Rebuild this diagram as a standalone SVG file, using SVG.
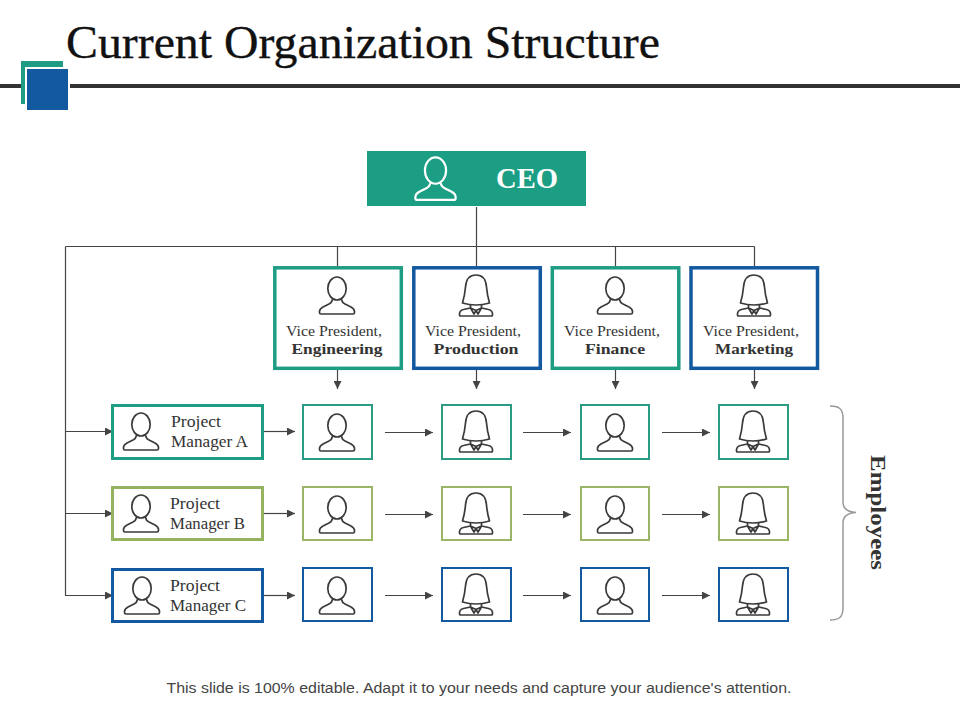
<svg xmlns="http://www.w3.org/2000/svg" width="960" height="720" viewBox="0 0 960 720">
<style>
text{font-family:"Liberation Serif","DejaVu Serif",serif;fill:#333}
.t{font-size:14.5px;text-anchor:middle}
.b{font-size:15px;font-weight:bold;text-anchor:middle}
.pm{font-size:16px}
.c{fill:none;stroke:#444;stroke-width:1.2}
.ic{fill:none;stroke:#3a3a3a;stroke-width:1.7;stroke-linejoin:round;stroke-linecap:round}
.vg{stroke:#1f9d84;fill:#fff;stroke-width:3.5}
.vb{stroke:#12599f;fill:#fff;stroke-width:3.5}
.pg{stroke:#1f9d84;fill:#fff;stroke-width:3}
.pl{stroke:#95b35f;fill:#fff;stroke-width:3}
.pb{stroke:#12599f;fill:#fff;stroke-width:3}
.sg{stroke:#2b9b84;fill:#fff;stroke-width:2}
.sl{stroke:#9ab566;fill:#fff;stroke-width:2}
.sb{stroke:#12599f;fill:#fff;stroke-width:2}
</style>
<defs>
<marker id="ah" viewBox="0 0 8 8" refX="8" refY="4" markerWidth="8" markerHeight="8" markerUnits="userSpaceOnUse" orient="auto"><path d="M0 0L8 4L0 8Z" fill="#444"/></marker>
<g id="man"><ellipse cx="0" cy="-6.500" rx="9.200" ry="11.500"/><path d="M-4.500 4.500Q-5 7.500-8 9L-14 12Q-17.500 14-17.500 16.500V17.500Q-17.500 19-16 19H16Q17.500 19 17.500 17.500V16.500Q17.500 14 14 12L8 9Q5 7.500 4.500 4.500"/></g>
<g id="woman"><path d="M0 -20C-7 -20-10 -15-10.500 -8C-11 -2-12 3-13.500 8Q-7 10 0 10Q7 10 13.500 8C12 3 11 -2 10.500 -8C10 -15 7 -20 0 -20Z"/><path d="M-5.500 10V13L-2 19L0 15.500L2 19L5.500 13V10M-5.500 13L-12.500 14.500Q-16.500 15.500-16.500 19V20Q-16.500 21-15.500 21H15.500Q16.500 21 16.500 20V19Q16.500 15.500 12.500 14.500L5.500 13M-5.500 13L0 15.500L5.500 13"/></g>
</defs>

<g id="header">
<rect x="0" y="84" width="960" height="4" fill="#333"/>
<rect x="21" y="61" width="42" height="43" fill="#1f9d84"/>
<rect x="25" y="67" width="45" height="45" fill="#fff"/>
<rect x="27" y="69" width="41" height="41" fill="#12599f"/>
<text x="66" y="58" font-size="46" textLength="594" lengthAdjust="spacingAndGlyphs" style="fill:#111;stroke:#111;stroke-width:.35">Current Organization Structure</text>
</g>

<g id="connectors" class="c">
<path d="M476.500 207V267M65.500 246.500H754.500M337.500 246.500V267M615.500 246.500V267M754.500 246.500V267M65.500 246.500V595.500"/>
<path d="M337.500 369V389" marker-end="url(#ah)"/>
<path d="M476.500 369V389" marker-end="url(#ah)"/>
<path d="M615.500 369V389" marker-end="url(#ah)"/>
<path d="M754.500 369V389" marker-end="url(#ah)"/>
<path d="M65 431.500H113" marker-end="url(#ah)"/>
<path d="M65 513.500H113" marker-end="url(#ah)"/>
<path d="M65 595.500H113" marker-end="url(#ah)"/>
<path d="M264 431.500H295" marker-end="url(#ah)"/>
<path d="M264 513.500H295" marker-end="url(#ah)"/>
<path d="M264 595.500H295" marker-end="url(#ah)"/>
<path d="M385 432.500H433" marker-end="url(#ah)"/>
<path d="M385 514.500H433" marker-end="url(#ah)"/>
<path d="M385 595.500H433" marker-end="url(#ah)"/>
<path d="M523 432.500H571" marker-end="url(#ah)"/>
<path d="M523 514.500H571" marker-end="url(#ah)"/>
<path d="M523 595.500H571" marker-end="url(#ah)"/>
<path d="M662 432.500H710" marker-end="url(#ah)"/>
<path d="M662 514.500H710" marker-end="url(#ah)"/>
<path d="M662 595.500H710" marker-end="url(#ah)"/>
</g>

<g id="ceo">
<rect x="367" y="151" width="219" height="55" fill="#1b9e83"/>
<g transform="translate(435.500 178) scale(1.150)" fill="none" stroke="#fff" stroke-width="1.900" stroke-linejoin="round"><use href="#man"/></g>
<text x="527" y="188" font-size="30" font-weight="bold" text-anchor="middle" textLength="62" lengthAdjust="spacingAndGlyphs" style="fill:#fff">CEO</text>
</g>

<g id="vp-engineering"><rect class="vg" x="274.800" y="267.800" width="126.500" height="100.500"/><use href="#man" x="337" y="295" class="ic"/><text class="t" x="334" y="336" textLength="96" lengthAdjust="spacingAndGlyphs">Vice President,</text><text class="b" x="337" y="354" textLength="91" lengthAdjust="spacingAndGlyphs">Engineering</text></g>
<g id="vp-production"><rect class="vb" x="413.800" y="267.800" width="126.500" height="100.500"/><use href="#woman" x="476" y="295" class="ic"/><text class="t" x="473" y="336" textLength="96" lengthAdjust="spacingAndGlyphs">Vice President,</text><text class="b" x="476" y="354" textLength="85" lengthAdjust="spacingAndGlyphs">Production</text></g>
<g id="vp-finance"><rect class="vg" x="552.300" y="267.800" width="126.500" height="100.500"/><use href="#man" x="615" y="295" class="ic"/><text class="t" x="612" y="336" textLength="96" lengthAdjust="spacingAndGlyphs">Vice President,</text><text class="b" x="615" y="354" textLength="60" lengthAdjust="spacingAndGlyphs">Finance</text></g>
<g id="vp-marketing"><rect class="vb" x="691" y="267.800" width="126.500" height="100.500"/><use href="#woman" x="754" y="295" class="ic"/><text class="t" x="751" y="336" textLength="96" lengthAdjust="spacingAndGlyphs">Vice President,</text><text class="b" x="754" y="354" textLength="78" lengthAdjust="spacingAndGlyphs">Marketing</text></g>

<g id="pm-a"><rect class="pg" x="112.500" y="405.500" width="150" height="53"/><use href="#man" x="141" y="431" class="ic"/><text class="pm" x="171" y="427" textLength="50" lengthAdjust="spacingAndGlyphs">Project</text><text class="pm" x="171" y="447" textLength="77" lengthAdjust="spacingAndGlyphs">Manager A</text></g>
<g id="pm-b"><rect class="pl" x="112.500" y="487.500" width="150" height="52"/><use href="#man" x="141" y="513" class="ic"/><text class="pm" x="170" y="509" textLength="50" lengthAdjust="spacingAndGlyphs">Project</text><text class="pm" x="170" y="529" textLength="75" lengthAdjust="spacingAndGlyphs">Manager B</text></g>
<g id="pm-c"><rect class="pb" x="112.500" y="569.500" width="150" height="52"/><use href="#man" x="142" y="595" class="ic"/><text class="pm" x="170" y="591" textLength="50" lengthAdjust="spacingAndGlyphs">Project</text><text class="pm" x="170" y="611" textLength="76" lengthAdjust="spacingAndGlyphs">Manager C</text></g>

<g id="e-a1"><rect class="sg" x="303" y="405" width="69" height="54"/><use href="#man" x="337" y="432" class="ic"/></g>
<g id="e-a2"><rect class="sg" x="442" y="405" width="69" height="54"/><use href="#woman" x="476" y="431" class="ic"/></g>
<g id="e-a3"><rect class="sg" x="581" y="405" width="68" height="54"/><use href="#man" x="615" y="432" class="ic"/></g>
<g id="e-a4"><rect class="sg" x="719" y="405" width="69" height="54"/><use href="#woman" x="753" y="431" class="ic"/></g>
<g id="e-b1"><rect class="sl" x="303" y="487" width="69" height="53"/><use href="#man" x="337" y="514" class="ic"/></g>
<g id="e-b2"><rect class="sl" x="442" y="487" width="69" height="53"/><use href="#woman" x="476" y="513" class="ic"/></g>
<g id="e-b3"><rect class="sl" x="581" y="487" width="68" height="53"/><use href="#man" x="615" y="514" class="ic"/></g>
<g id="e-b4"><rect class="sl" x="719" y="487" width="69" height="53"/><use href="#woman" x="753" y="513" class="ic"/></g>
<g id="e-c1"><rect class="sb" x="303" y="568" width="69" height="53"/><use href="#man" x="337" y="595" class="ic"/></g>
<g id="e-c2"><rect class="sb" x="442" y="568" width="69" height="53"/><use href="#woman" x="476" y="594" class="ic"/></g>
<g id="e-c3"><rect class="sb" x="581" y="568" width="68" height="53"/><use href="#man" x="615" y="595" class="ic"/></g>
<g id="e-c4"><rect class="sb" x="719" y="568" width="69" height="53"/><use href="#woman" x="753" y="594" class="ic"/></g>

<g id="employees">
<path d="M830 406C838 406 843 408 843 418V502C843 509 847 512 856 512.500C847 513 843 516 843 523V608C843 618 838 620 830 620" fill="none" stroke="#999" stroke-width="1.500"/>
<text transform="translate(871 512.500) rotate(90)" font-size="22" font-weight="bold" text-anchor="middle" textLength="115" lengthAdjust="spacingAndGlyphs">Employees</text>
</g>

<text id="footer" x="479" y="693" font-size="15.300" text-anchor="middle" textLength="625" lengthAdjust="spacingAndGlyphs" style="font-family:'Liberation Sans',Arial,sans-serif;fill:#444">This slide is 100% editable. Adapt it to your needs and capture your audience's attention.</text>
</svg>
